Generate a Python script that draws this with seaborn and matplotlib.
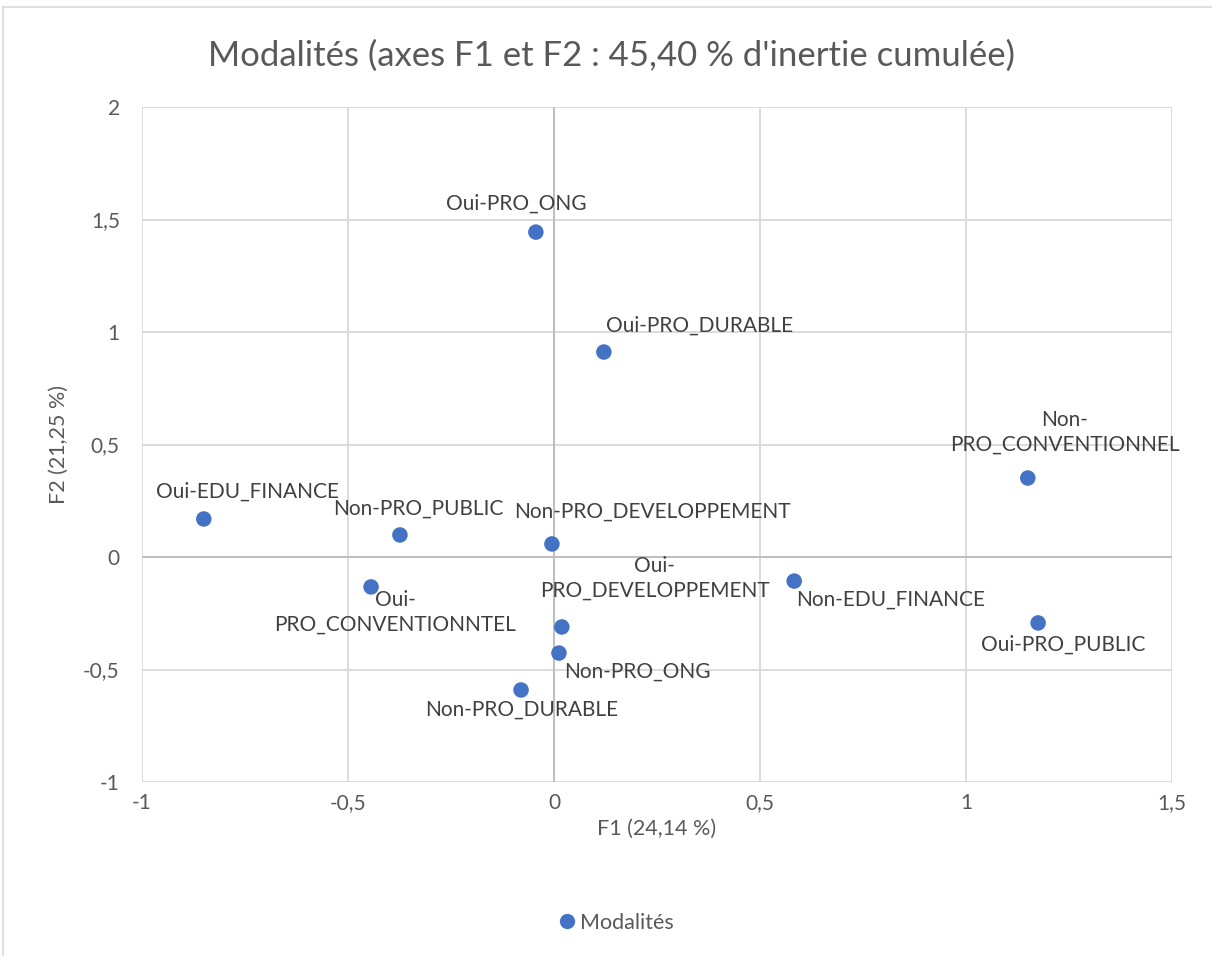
import matplotlib
matplotlib.use("Agg")
import matplotlib.pyplot as plt
from matplotlib.lines import Line2D
import seaborn as sns
import pandas as pd

# Coordinates of the modalities on the first two factorial axes
modalites = [
    "Oui-PRO_ONG", "Oui-PRO_DURABLE", "Non-\nPRO_CONVENTIONNEL", "Oui-EDU_FINANCE",
    "Non-PRO_PUBLIC", "Non-PRO_DEVELOPPEMENT", "Oui-\nPRO_CONVENTIONNTEL",
    "Non-EDU_FINANCE", "Oui-PRO_PUBLIC", "Oui-\nPRO_DEVELOPPEMENT",
    "Non-PRO_ONG", "Non-PRO_DURABLE",
]
f1 = [-0.044, 0.121, 1.150, -0.850, -0.374, -0.005, -0.444, 0.583, 1.175, 0.019, 0.012, -0.080]
f2 = [1.444, 0.911, 0.351, 0.169, 0.098, 0.058, -0.133, -0.107, -0.293, -0.311, -0.427, -0.591]

x_ticks = [-1, -0.5, 0, 0.5, 1, 1.5]
y_ticks = [-1, -0.5, 0, 0.5, 1, 1.5, 2]

# label offsets in pixels (dx right, dy down)
label_offsets = [
    (-20, -28), (96, -26), (37, -46), (44, -27), (18, -26), (100, -32),
    (24, 25), (96, 19), (25, 22), (93, -49), (78, 19), (1, 20),
]

sns.set_theme(style="white")
plt.rcParams["font.family"] = ["Lato", "DejaVu Sans"]

DPI = 100
fig = plt.figure(figsize=(12.12, 9.56), dpi=DPI)
ax = fig.add_axes([142 / 1212, 1 - 782 / 956, (1172 - 142) / 1212, (782 - 107) / 956])

df = pd.DataFrame({"F1": f1, "F2": f2, "Modalité": modalites})

grid_c = "#d9d9d9"
axis_c = "#bfbfbf"
text_c = "#404040"
tick_c = "#595959"
blue = "#4472C4"

ax.set_xlim(-1, 1.5)
ax.set_ylim(-1, 2)
ax.set_xticks(x_ticks)
ax.set_yticks(y_ticks)
ax.grid(True, color=grid_c, linewidth=1.3)
ax.set_axisbelow(True)
for s in ax.spines.values():
    s.set_visible(False)
ax.axhline(0, color=axis_c, linewidth=1.4, zorder=1)
ax.axvline(0, color=axis_c, linewidth=1.4, zorder=1)

sns.scatterplot(data=df, x="F1", y="F2", ax=ax, color=blue, s=125,
                edgecolor="none", zorder=3, legend=False)

for name, x, y, (dx, dy) in zip(modalites, f1, f2, label_offsets):
    ax.annotate(name, (x, y), xytext=(dx * 72 / DPI, -dy * 72 / DPI),
                textcoords="offset points", ha="center", va="center",
                fontsize=15, color=text_c, linespacing=1.3, zorder=4)

def fr(v):
    return f"{v:g}".replace(".", ",")

ax.set_xticklabels([fr(v) for v in x_ticks])
ax.set_yticklabels([fr(v) for v in y_ticks])
ax.tick_params(axis="both", length=0, labelsize=15, labelcolor=tick_c)
ax.tick_params(axis="x", pad=8)
ax.tick_params(axis="y", pad=16)

ax.set_xlabel("F1 (24,14 %)", fontsize=15.5, color=tick_c, labelpad=4)
ax.set_ylabel("F2 (21,25 %)", fontsize=15.5, color=tick_c, labelpad=10)

fig.text(612 / 1212, 1 - 56 / 956, "Modalités (axes F1 et F2 : 45,40 % d'inertie cumulée)",
         ha="center", va="center", fontsize=25, color=tick_c)

handle = Line2D([], [], marker="o", linestyle="none", markersize=11,
                markerfacecolor=blue, markeredgecolor="none")
fig.legend([handle], ["Modalités"], loc="center", bbox_to_anchor=(615 / 1212, 1 - 923 / 956),
           frameon=False, fontsize=15.5, labelcolor=tick_c, handletextpad=0.1,
           handlelength=1.0)

# chart frame
fig.add_artist(Line2D([3 / 1212, 3 / 1212], [0, 1 - 7 / 956], transform=fig.transFigure,
                      color=grid_c, linewidth=1.2))
fig.add_artist(Line2D([3 / 1212, 1], [1 - 7 / 956, 1 - 7 / 956], transform=fig.transFigure,
                      color=grid_c, linewidth=1.2))

fig.savefig("out.png", dpi=DPI, facecolor="white")
